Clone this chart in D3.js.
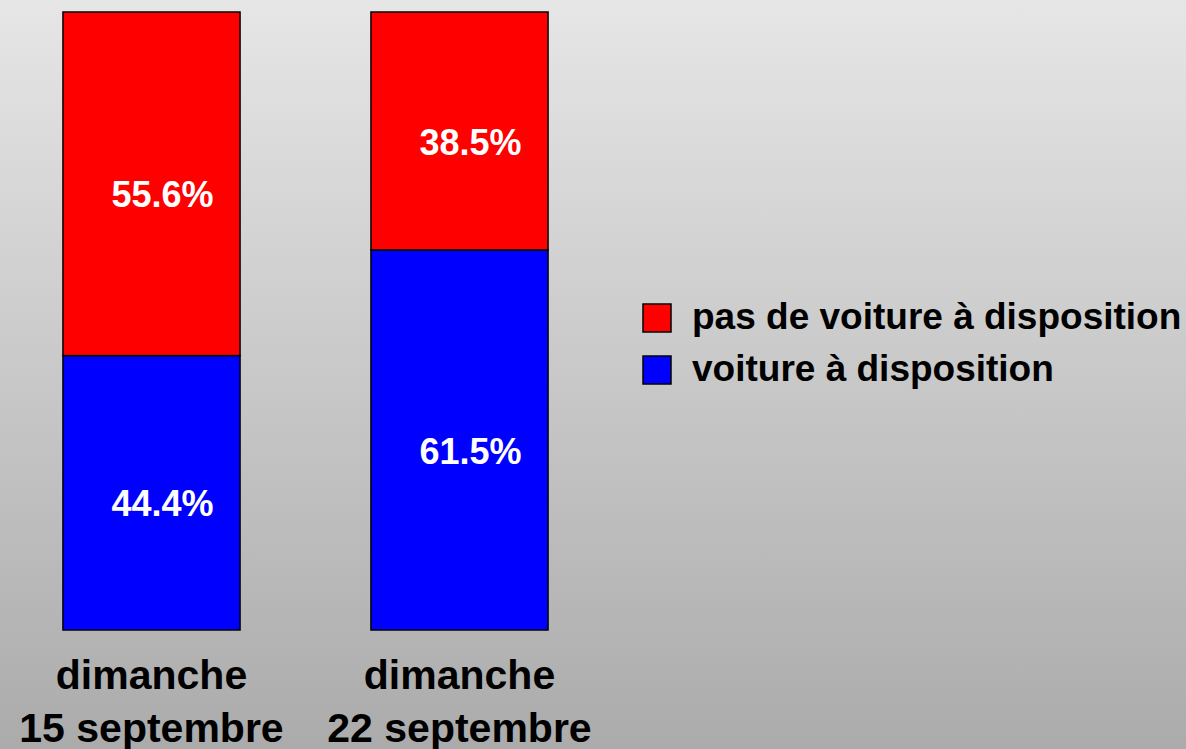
<!DOCTYPE html>
<html>
<head>
<meta charset="utf-8">
<script src="https://cdn.jsdelivr.net/npm/d3@7"></script>
<style>
  html, body { margin: 0; padding: 0; overflow: hidden; }
  svg { display: block; font-family: "Liberation Sans", Arial, sans-serif; font-weight: bold; }
</style>
</head>
<body>
<div id="root"></div>
<script>
const categories = ["dimanche\n15 septembre", "dimanche\n22 septembre"];
const seriesNames = ["voiture à disposition", "pas de voiture à disposition"];
const voiture = [44.4, 61.5];
const pasVoiture = [55.6, 38.5];
const colors = ["#0000ff", "#ff0000"];

const width = 1186;
const height = 749;

const svg = d3
  .select("#root")
  .append("svg")
  .attr("width", width)
  .attr("height", height);

// grey gradient background
const grad = svg
  .append("defs")
  .append("linearGradient")
  .attr("id", "bg")
  .attr("x1", 0)
  .attr("y1", 0)
  .attr("x2", 0)
  .attr("y2", 1);
grad.append("stop").attr("offset", "0%").attr("stop-color", "#e6e6e6");
grad.append("stop").attr("offset", "100%").attr("stop-color", "#ababab");
svg
  .append("rect")
  .attr("width", width)
  .attr("height", height)
  .attr("fill", "url(#bg)");

const xScale = d3
  .scaleBand()
  .domain(categories)
  .range([-2.5, 613.5])
  .paddingInner(0.425)
  .paddingOuter(0.2125);

const yScale = d3.scaleLinear().domain([0, 100]).range([630, 12]);

// stack the two series, blue at the bottom
const rows = categories.map((c, i) => ({
  cat: c,
  [seriesNames[0]]: voiture[i],
  [seriesNames[1]]: pasVoiture[i],
}));
const stacked = d3.stack().keys(seriesNames)(rows);

const layers = svg
  .selectAll("g.layer")
  .data(stacked)
  .enter()
  .append("g")
  .attr("class", "layer")
  .attr("fill", (d, i) => colors[i]);

layers
  .selectAll("rect")
  .data((d) => d)
  .enter()
  .append("rect")
  .attr("x", (d) => xScale(d.data.cat))
  .attr("y", (d) => yScale(d[1]))
  .attr("width", xScale.bandwidth())
  .attr("height", (d) => yScale(d[0]) - yScale(d[1]))
  .attr("stroke", "#000")
  .attr("stroke-width", 1.5);

layers
  .selectAll("text")
  .data((d) => d)
  .enter()
  .append("text")
  .attr("x", (d) => xScale(d.data.cat) + xScale.bandwidth() / 2 + 11)
  .attr("y", (d) => (yScale(d[0]) + yScale(d[1])) / 2 + 11)
  .attr("dy", "0.35em")
  .attr("text-anchor", "middle")
  .attr("fill", "#fff")
  .style("font-size", "36px")
  .text((d) => (d[1] - d[0]).toFixed(1) + "%");

// category labels (two lines)
const catLabels = svg
  .selectAll("text.cat")
  .data(categories)
  .enter()
  .append("text")
  .attr("class", "cat")
  .attr("text-anchor", "middle")
  .attr("fill", "#000")
  .style("font-size", "41px");
catLabels
  .selectAll("tspan")
  .data((d) => d.split("\n").map((t) => ({ t, c: d })))
  .enter()
  .append("tspan")
  .attr("x", (d) => xScale(d.c) + xScale.bandwidth() / 2)
  .attr("y", (d, i) => 689 + i * 53)
  .text((d) => d.t);

// legend, red item first
const legendItems = [1, 0];
const legend = svg
  .selectAll("g.legend")
  .data(legendItems)
  .enter()
  .append("g")
  .attr("class", "legend")
  .attr("transform", (d, i) => `translate(643, ${304 + i * 52})`);
legend
  .append("rect")
  .attr("width", 28)
  .attr("height", 28)
  .attr("fill", (d) => colors[d])
  .attr("stroke", "#000")
  .attr("stroke-width", 1.5);
legend
  .append("text")
  .attr("x", 49)
  .attr("y", 25)
  .attr("fill", "#000")
  .style("font-size", "37px")
  .text((d) => seriesNames[d]);
</script>
</body>
</html>
